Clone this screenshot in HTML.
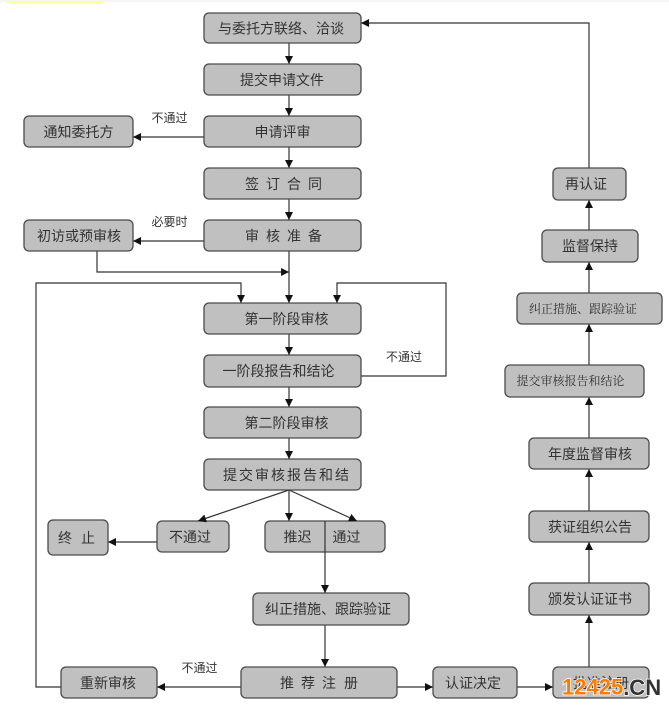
<!DOCTYPE html>
<html><head><meta charset="utf-8"><style>
html,body{margin:0;padding:0;background:#fff;}
svg{display:block;}
text{font-family:"Liberation Sans","Noto Sans CJK SC",sans-serif;font-size:14px;fill:#333;dominant-baseline:central;}
.s{font-size:12px;}
.serif{font-family:"Liberation Serif","Noto Serif CJK SC",serif;font-size:12px;}
.b{fill:#c0c0c0;stroke:#4a4a4a;stroke-width:1.3;}
.l{stroke:#333;stroke-width:1.2;fill:none;}
.a{fill:#111;}
</style></head><body>
<svg width="669" height="709" viewBox="0 0 669 709" xmlns="http://www.w3.org/2000/svg">
<rect x="0" y="0" width="669" height="2" fill="#f5f5f5"/>
<rect x="6" y="2" width="97" height="1.5" fill="#ffff99"/>

<!-- lines -->
<g class="l">
<path d="M289 43V64M289 95V116M289 147V168M289 199V220M289 251V303M289 334V355M289 387V407M289 438V459"/>
<path d="M204 137H133M204 241H133"/>
<path d="M97 251V272H289"/>
<path d="M61 687H36V283H241V303"/>
<path d="M361 376H446V283H337V303"/>
<path d="M289 490L198 521M289 490V521M289 490L357 521"/>
<path d="M157 542H108"/>
<path d="M325 625V667"/>
<path d="M241 687H157M397 687H433M517 687H553"/>
<path d="M589 667V615M589 583V542M589 511V469M589 438V397M589 365V324M589 293V262M589 230V200M589 168V23H361"/>
</g>

<!-- boxes -->
<g class="b">
<rect x="204" y="13" width="157" height="30" rx="5"/>
<rect x="204" y="64" width="157" height="31" rx="5"/>
<rect x="204" y="116" width="157" height="31" rx="5"/>
<rect x="204" y="168" width="157" height="31" rx="5"/>
<rect x="204" y="220" width="157" height="31" rx="5"/>
<rect x="204" y="303" width="157" height="31" rx="5"/>
<rect x="204" y="355" width="157" height="32" rx="5"/>
<rect x="204" y="407" width="157" height="31" rx="5"/>
<rect x="204" y="459" width="157" height="31" rx="5"/>
<rect x="24" y="116" width="109" height="31" rx="5"/>
<rect x="24" y="220" width="109" height="31" rx="5"/>
<rect x="48" y="520" width="60" height="35" rx="5"/>
<rect x="157" y="521" width="72" height="31" rx="5"/>
<rect x="265" y="521" width="120" height="31" rx="5"/>
<rect x="253" y="593" width="156" height="32" rx="5"/>
<rect x="241" y="667" width="156" height="31" rx="5"/>
<rect x="61" y="667" width="96" height="31" rx="5"/>
<rect x="433" y="667" width="84" height="31" rx="5"/>
<rect x="553" y="667" width="96" height="31" rx="5"/>
<rect x="529" y="583" width="120" height="32" rx="5"/>
<rect x="529" y="511" width="120" height="31" rx="5"/>
<rect x="529" y="438" width="120" height="31" rx="5"/>
<rect x="505" y="365" width="139" height="32" rx="5"/>
<rect x="517" y="293" width="145" height="31" rx="5"/>
<rect x="542" y="230" width="96" height="32" rx="5"/>
<rect x="553" y="168" width="73" height="32" rx="5"/>
</g>
<path class="l" d="M325 521V593"/>

<!-- arrowheads -->
<g class="a">
<!-- down -->
<polygon points="285,56 293,56 289,64"/>
<polygon points="285,108 293,108 289,116"/>
<polygon points="285,160 293,160 289,168"/>
<polygon points="285,212 293,212 289,220"/>
<polygon points="285,295 293,295 289,303"/>
<polygon points="237,295 245,295 241,303"/>
<polygon points="333,295 341,295 337,303"/>
<polygon points="285,347 293,347 289,355"/>
<polygon points="285,399 293,399 289,407"/>
<polygon points="285,451 293,451 289,459"/>
<polygon points="285,513 293,513 289,521"/>
<polygon points="321,585 329,585 325,593"/>
<polygon points="321,659 329,659 325,667"/>
<polygon points="198,521 206.9,522.2 204.3,514.6"/>
<polygon points="357,521 348,521.3 351.4,514"/>
<!-- left -->
<polygon points="133,137 141,133 141,141"/>
<polygon points="133,241 141,237 141,245"/>
<polygon points="108,542 116,538 116,546"/>
<polygon points="157,687 165,683 165,691"/>
<polygon points="361,23 369,19 369,27"/>
<!-- right -->
<polygon points="289,272 281,268 281,276"/>
<polygon points="433,687 425,683 425,691"/>
<polygon points="553,687 545,683 545,691"/>
<!-- up -->
<polygon points="589,615 585,623 593,623"/>
<polygon points="589,542 585,550 593,550"/>
<polygon points="589,469 585,477 593,477"/>
<polygon points="589,397 585,405 593,405"/>
<polygon points="589,324 585,332 593,332"/>
<polygon points="589,262 585,270 593,270"/>
<polygon points="589,200 585,208 593,208"/>
</g>

<!-- texts -->
<g text-anchor="middle">
<text x="281" y="28.5">与委托方联络、洽谈</text>
<text x="282" y="80">提交申请文件</text>
<text x="282.5" y="132">申请评审</text>
<text x="286.5" y="319">第一阶段审核</text>
<text x="278.5" y="371">一阶段报告和结论</text>
<text x="286.5" y="423">第二阶段审核</text>
<text x="78.5" y="132">通知委托方</text>
<text x="79" y="236">初访或预审核</text>
<text x="190" y="537">不通过</text>
<text x="297.5" y="537">推迟</text>
<text x="346.5" y="537">通过</text>
<text x="328" y="609">纠正措施、跟踪验证</text>
<text x="108" y="683">重新审核</text>
<text x="473" y="683">认证决定</text>
<text x="601" y="683">批准注册</text>
<text x="590" y="599">颁发认证证书</text>
<text x="590" y="527">获证组织公告</text>
<text x="590" y="454">年度监督审核</text>
<text class="serif" x="570.5" y="381">提交审核报告和结论</text>
<text class="serif" x="583" y="309">纠正措施、跟踪验证</text>
<text x="590" y="246">监督保持</text>
<text x="586" y="184">再认证</text>
<text class="s" x="169.5" y="118">不通过</text>
<text class="s" x="169.5" y="222">必要时</text>
<text class="s" x="404" y="357">不通过</text>
<text class="s" x="199.5" y="668">不通过</text>
</g>
<text x="245 266 287 308" y="184">签订合同</text>
<text x="245 266 287 308" y="236">审核准备</text>
<text x="223 239 255 271 287 303 319 335" y="475">提交审核报告和结</text>
<text x="58 81" y="538">终止</text>
<text x="280 301 322 344" y="683">推荐注册</text>

<!-- watermark -->
<text x="562" y="687" style="font-family:'Liberation Sans',sans-serif;font-weight:bold;font-size:22px;fill:#ff7a00;stroke:#fff;stroke-width:1.5;paint-order:stroke;">12425<tspan style="fill:#333;">.CN</tspan></text>
</svg>
</body></html>
